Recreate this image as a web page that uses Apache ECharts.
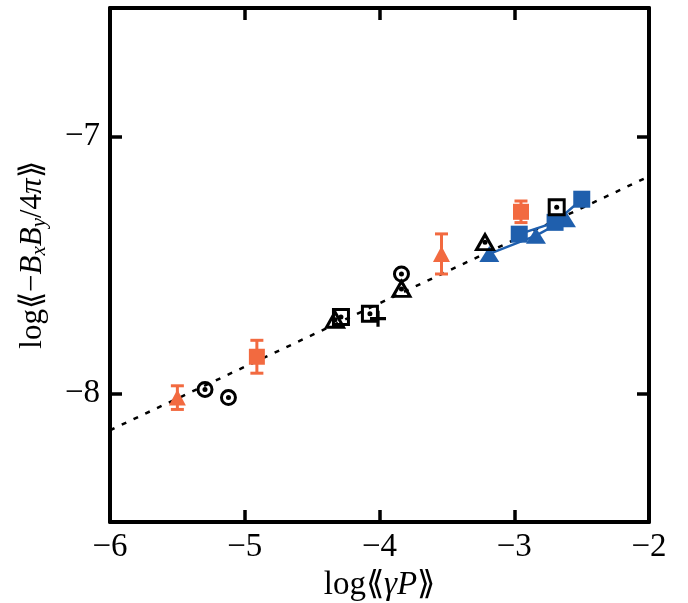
<!DOCTYPE html>
<html>
<head>
<meta charset="utf-8">
<script src="https://cdn.jsdelivr.net/npm/echarts@6/dist/echarts.min.js"></script>
<style>html,body{margin:0;padding:0;background:#fff;}#c{width:688px;height:603px;}</style>
</head>
<body>
<div id="c"></div>
<script>
// ---- data ----
const xTicks = [-6, -5, -4, -3, -2];
const yTicks = [-8, -7];

const fitX = [-6, -2];
const fitY = [-8.143, -7.155];

const orangeTriX = [-5.50, -3.54];
const orangeTriY = [-8.016, -7.457];
const orangeTriErr = [0.046, 0.078];

const orangeSqX = [-4.91, -2.95];
const orangeSqY = [-7.857, -7.293];
const orangeSqErr = [0.064, 0.042];

const blackCircX = [-5.295, -5.121, -3.837];
const blackCircY = [-7.984, -8.016, -7.535];

const blackSqX = [-4.286, -4.071, -2.685];
const blackSqY = [-7.702, -7.690, -7.275];

const blackTriX = [-4.330, -3.837, -3.217];
const blackTriY = [-7.713, -7.593, -7.411];

const blackPlusX = [-4.011];
const blackPlusY = [-7.709];

const blueTriX = [-3.185, -2.839, -2.616];
const blueTriY = [-7.457, -7.386, -7.322];

const blueSqX = [-2.963, -2.697, -2.499];
const blueSqY = [-7.380, -7.334, -7.244];

// ---- helpers ----
const zip = (xs, ys) => xs.map((x, i) => [x, ys[i]]);
const zip3 = (xs, ys, es) => xs.map((x, i) => [x, ys[i], es[i]]);

const ORANGE = '#f26a40';
const BLUE = '#1f5fad';
const FONT = "'Liberation Serif', 'DejaVu Serif', serif";

function errRender(params, api) {
  const x = api.value(0), y = api.value(1), e = api.value(2);
  const t = api.coord([x, y + e]);
  const b = api.coord([x, y - e]);
  const w = 6.5;
  const st = { stroke: ORANGE, lineWidth: 3 };
  return {
    type: 'group',
    children: [
      { type: 'line', shape: { x1: t[0], y1: t[1], x2: b[0], y2: b[1] }, style: st },
      { type: 'line', shape: { x1: t[0] - w, y1: t[1], x2: t[0] + w, y2: t[1] }, style: st },
      { type: 'line', shape: { x1: b[0] - w, y1: b[1], x2: b[0] + w, y2: b[1] }, style: st }
    ]
  };
}

const hollow = { color: 'rgba(0,0,0,0)', borderColor: '#000', borderWidth: 3, opacity: 1 };
const dotSeries = (xs, ys) => ({
  type: 'scatter', data: zip(xs, ys), symbol: 'circle', symbolSize: 5,
  itemStyle: { color: '#000', opacity: 1 }, z: 6, silent: true
});

const axisLineStyle = { show: true, onZero: false, lineStyle: { color: '#000', width: 4 } };
const tickStyle = { show: true, inside: true, length: 12, lineStyle: { color: '#000', width: 3.5 } };
const minus = v => (v < 0 ? '\u2212' + Math.abs(v) : String(v));

const chart = echarts.init(document.getElementById('c'), null, { renderer: 'canvas' });
chart.setOption({
  animation: false,
  backgroundColor: '#fff',
  grid: { left: 110, right: 39, top: 8, bottom: 81, containLabel: false, outerBoundsMode: 'none' },
  xAxis: [
    {
      type: 'value', min: -6, max: -2, interval: 1, position: 'bottom',
      axisLine: axisLineStyle,
      axisTick: Object.assign({}, tickStyle, { customValues: xTicks }),
      axisLabel: {
        customValues: xTicks, margin: 9, color: '#000', fontFamily: FONT, fontSize: 33,
        formatter: minus
      },
      splitLine: { show: false },
      name: '{n|log\u27EA}{i|\u03B3P}{n|\u27EB}',
      nameLocation: 'middle', nameGap: 42,
      nameTextStyle: {
        rich: {
          n: { fontFamily: FONT, fontSize: 33, color: '#000' },
          i: { fontFamily: FONT, fontSize: 33, fontStyle: 'italic', color: '#000' }
        }
      }
    },
    {
      type: 'value', min: -6, max: -2, interval: 1, position: 'top',
      axisLine: axisLineStyle,
      axisTick: Object.assign({}, tickStyle, { customValues: xTicks }),
      axisLabel: { show: false },
      splitLine: { show: false }
    }
  ],
  yAxis: [
    {
      type: 'value', min: -8.5, max: -6.5, interval: 0.5, position: 'left',
      axisLine: axisLineStyle,
      axisTick: Object.assign({}, tickStyle, { customValues: yTicks }),
      axisLabel: {
        customValues: yTicks, margin: 10, color: '#000', fontFamily: FONT, fontSize: 33,
        formatter: minus
      },
      splitLine: { show: false },
      name: '{n|log\u27EA\u2212}{i|B}{s|x}{i|B}{s|y}{n|/4}{i|\u03C0}{n|\u27EB}',
      nameLocation: 'middle', nameGap: 60, nameRotate: 90,
      nameTextStyle: {
        padding: [0, 0, 0, 20],
        rich: {
          n: { fontFamily: FONT, fontSize: 31, color: '#000', lineHeight: 34 },
          i: { fontFamily: FONT, fontSize: 31, fontStyle: 'italic', color: '#000', lineHeight: 34 },
          s: { fontFamily: FONT, fontSize: 21, fontStyle: 'italic', color: '#000', lineHeight: 20, verticalAlign: 'bottom' }
        }
      }
    },
    {
      type: 'value', min: -8.5, max: -6.5, interval: 0.5, position: 'right',
      axisLine: axisLineStyle,
      axisTick: Object.assign({}, tickStyle, { customValues: yTicks }),
      axisLabel: { show: false },
      splitLine: { show: false }
    }
  ],
  series: [
    {
      name: 'fit', type: 'line', data: zip(fitX, fitY), symbol: 'none',
      lineStyle: { color: '#000', width: 2.5, type: [5, 8] }, z: 1, silent: true
    },
    {
      name: 'err-tri', type: 'custom', renderItem: errRender,
      data: zip3(orangeTriX, orangeTriY, orangeTriErr), z: 3
    },
    {
      name: 'err-sq', type: 'custom', renderItem: errRender,
      data: zip3(orangeSqX, orangeSqY, orangeSqErr), z: 3
    },
    {
      name: 'orange-tri', type: 'scatter', data: zip(orangeTriX, orangeTriY),
      symbol: 'triangle', symbolSize: [17, 16], itemStyle: { color: ORANGE, opacity: 1 }, z: 4
    },
    {
      name: 'orange-sq', type: 'scatter', data: zip(orangeSqX, orangeSqY),
      symbol: 'rect', symbolSize: 16, itemStyle: { color: ORANGE, opacity: 1 }, z: 4
    },
    {
      name: 'blue-tri', type: 'line', data: zip(blueTriX, blueTriY),
      symbol: 'triangle', symbolSize: [20, 16], showAllSymbol: true,
      lineStyle: { color: BLUE, width: 2.5 }, itemStyle: { color: BLUE }, z: 4
    },
    {
      name: 'blue-sq', type: 'line', data: zip(blueSqX, blueSqY),
      symbol: 'rect', symbolSize: 17, showAllSymbol: true,
      lineStyle: { color: BLUE, width: 2.5 }, itemStyle: { color: BLUE }, z: 4
    },
    {
      name: 'black-circ', type: 'scatter', data: zip(blackCircX, blackCircY),
      symbol: 'circle', symbolSize: 14, itemStyle: hollow, z: 5
    },
    {
      name: 'black-sq', type: 'scatter', data: zip(blackSqX, blackSqY),
      symbol: 'rect', symbolSize: 15, itemStyle: hollow, z: 5
    },
    {
      name: 'black-tri', type: 'scatter', data: zip(blackTriX, blackTriY),
      symbol: 'triangle', symbolSize: [17, 15], itemStyle: hollow, z: 5
    },
    {
      name: 'black-plus', type: 'scatter', data: zip(blackPlusX, blackPlusY),
      symbol: 'path://M4,0H6V4H10V6H6V10H4V6H0V4H4Z', symbolSize: 16,
      itemStyle: { color: '#000', opacity: 1 }, z: 5
    },
    dotSeries(blackCircX, blackCircY),
    dotSeries(blackSqX, blackSqY),
    dotSeries(blackTriX, blackTriY)
  ]
});
</script>
</body>
</html>
